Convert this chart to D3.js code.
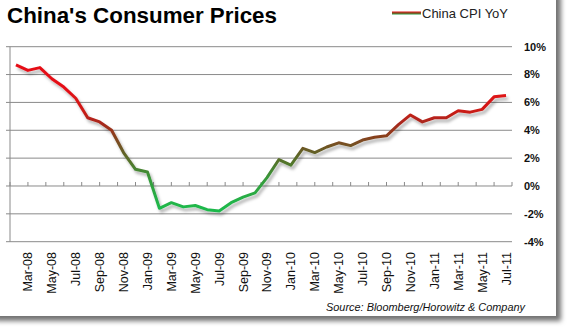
<!DOCTYPE html>
<html>
<head>
<meta charset="utf-8">
<script src="https://cdn.jsdelivr.net/npm/d3@7"></script>
<style>
  body { margin: 0; background: #fff; }
  svg { display: block; }
</style>
</head>
<body>
<div id="chart"></div>
<script>
// monthly categories, Feb-08 .. Jul-11
var months = ["Feb-08","Mar-08","Apr-08","May-08","Jun-08","Jul-08","Aug-08","Sep-08","Oct-08","Nov-08","Dec-08",
  "Jan-09","Feb-09","Mar-09","Apr-09","May-09","Jun-09","Jul-09","Aug-09","Sep-09","Oct-09","Nov-09","Dec-09",
  "Jan-10","Feb-10","Mar-10","Apr-10","May-10","Jun-10","Jul-10","Aug-10","Sep-10","Oct-10","Nov-10","Dec-10",
  "Jan-11","Feb-11","Mar-11","Apr-11","May-11","Jun-11","Jul-11"];
var cpi = [8.7, 8.3, 8.5, 7.7, 7.1, 6.3, 4.9, 4.6, 4.0, 2.4, 1.2,
  1.0, -1.6, -1.2, -1.5, -1.4, -1.7, -1.8, -1.2, -0.8, -0.5, 0.6, 1.9,
  1.5, 2.7, 2.4, 2.8, 3.1, 2.9, 3.3, 3.5, 3.6, 4.4, 5.1, 4.6,
  4.9, 4.9, 5.4, 5.3, 5.5, 6.4, 6.5];
var xLabels = months.filter(function (m, i) { return i % 2 == 1; });
var yTicks = [-4, -2, 0, 2, 4, 6, 8, 10];

var width = 570, height = 331;

var svg = d3.select("#chart").append("svg")
  .attr("width", width)
  .attr("height", height);

var defs = svg.append("defs");

// frame shadow
var fs = defs.append("filter").attr("id", "frameShadow")
  .attr("x", "-5%").attr("y", "-5%").attr("width", "115%").attr("height", "115%");
fs.append("feDropShadow").attr("dx", 5).attr("dy", 5).attr("stdDeviation", 2.5)
  .attr("flood-color", "#000").attr("flood-opacity", 0.55);

// line shadow
var ls = defs.append("filter").attr("id", "lineShadow")
  .attr("x", "-10%").attr("y", "-10%").attr("width", "120%").attr("height", "120%");
ls.append("feDropShadow").attr("dx", 2).attr("dy", 3).attr("stdDeviation", 1.5)
  .attr("flood-color", "#000").attr("flood-opacity", 0.3);

svg.append("rect")
  .attr("x", -10).attr("y", -10)
  .attr("width", 566).attr("height", 326)
  .attr("fill", "#fff")
  .attr("filter", "url(#frameShadow)");

// scales
var x = d3.scaleBand().domain(months).range([10, 512]).padding(0);
var xi = d3.scaleLinear().domain([-0.5, months.length - 0.5]).range([10, 512]);
var y = d3.scaleLinear().domain([-4, 10]).range([241.7, 46.7]);

// colour gradient along the value axis
var grad = defs.append("linearGradient").attr("id", "cpiGrad")
  .attr("gradientUnits", "userSpaceOnUse")
  .attr("x1", 0).attr("x2", 0)
  .attr("y1", y(7)).attr("y2", y(-1.5));
var stops = [
  [7, "#e50e14"], [5.5, "#cf1a17"], [4.5, "#a8281c"], [3.5, "#86421f"],
  [2.5, "#655e26"], [1.5, "#4f7a2d"], [0.5, "#369a3b"], [-1.5, "#1fb84b"]
];
stops.forEach(function (s) {
  grad.append("stop")
    .attr("offset", (7 - s[0]) / 8.5)
    .attr("stop-color", s[1]);
});

var lg = defs.append("linearGradient").attr("id", "legGrad")
  .attr("x1", 0).attr("x2", 0).attr("y1", 0).attr("y2", 1);
lg.append("stop").attr("offset", 0).attr("stop-color", "#e01818");
lg.append("stop").attr("offset", 0.5).attr("stop-color", "#8a4a22");
lg.append("stop").attr("offset", 1).attr("stop-color", "#2a9a40");

// gridlines
svg.append("g").selectAll("line")
  .data(yTicks.filter(function (d) { return d != 0; }))
  .enter().append("line")
  .attr("x1", 6).attr("x2", 512)
  .attr("y1", function (d) { return y(d); })
  .attr("y2", function (d) { return y(d); })
  .attr("stroke", "#8a8a8a")
  .attr("stroke-width", 1);

// left vertical line
svg.append("line")
  .attr("x1", 10).attr("x2", 10)
  .attr("y1", y(10)).attr("y2", y(-4))
  .attr("stroke", "#8a8a8a");

// category axis at 0%
svg.append("line")
  .attr("x1", 6).attr("x2", 512)
  .attr("y1", y(0)).attr("y2", y(0))
  .attr("stroke", "#8a8a8a");
svg.append("g").selectAll("line")
  .data(d3.range(0, 29).map(function (i) { return -0.5 + 1.5 * i; }))
  .enter().append("line")
  .attr("x1", function (d) { return xi(d); })
  .attr("x2", function (d) { return xi(d); })
  .attr("y1", y(0) - 4).attr("y2", y(0))
  .attr("stroke", "#8a8a8a");

// y labels on the right
svg.append("g").selectAll("text")
  .data(yTicks)
  .enter().append("text")
  .attr("x", 524)
  .attr("y", function (d) { return y(d); })
  .attr("dy", "0.35em")
  .style("font-family", "Liberation Sans, Arial, sans-serif")
  .style("font-size", "11px")
  .style("font-weight", "bold")
  .attr("fill", "#111")
  .text(function (d) { return d + "%"; });

// x labels rotated
svg.append("g").selectAll("text")
  .data(xLabels)
  .enter().append("text")
  .attr("transform", function (d) {
    return "translate(" + (x(d) + x.bandwidth() / 2) + ",252) rotate(-90)";
  })
  .attr("text-anchor", "end")
  .attr("dy", "0.36em")
  .style("font-family", "Liberation Sans, Arial, sans-serif")
  .style("font-size", "12.5px")
  .attr("fill", "#111")
  .text(function (d) { return d; });

// the line
var line = d3.line()
  .x(function (d, i) { return x(months[i]) + x.bandwidth() / 2; })
  .y(function (d) { return y(d); });

svg.append("path")
  .datum(cpi)
  .attr("d", line)
  .attr("fill", "none")
  .attr("stroke", "url(#cpiGrad)")
  .attr("stroke-width", 3)
  .attr("stroke-linejoin", "round")
  .attr("filter", "url(#lineShadow)");

// title
var title = svg.append("text")
  .attr("x", 7).attr("y", 23)
  .style("font-family", "Liberation Sans, Arial, sans-serif")
  .style("font-size", "22.5px")
  .style("font-weight", "bold")
  .attr("fill", "#000")
  .text("China's Consumer Prices");
title.attr("textLength", 270).attr("lengthAdjust", "spacingAndGlyphs");

// legend
svg.append("rect")
  .attr("x", 392).attr("y", 11.5)
  .attr("width", 29).attr("height", 3)
  .attr("fill", "url(#legGrad)");
svg.append("text")
  .attr("x", 422).attr("y", 17.5)
  .style("font-family", "Liberation Sans, Arial, sans-serif")
  .style("font-size", "13px")
  .attr("fill", "#222")
  .text("China CPI YoY");

// source
var src = svg.append("text")
  .attr("x", 326).attr("y", 311)
  .style("font-family", "Liberation Sans, Arial, sans-serif")
  .style("font-size", "11px")
  .style("font-style", "italic")
  .attr("fill", "#111")
  .text("Source:  Bloomberg/Horowitz & Company");
src.attr("textLength", 199).attr("lengthAdjust", "spacingAndGlyphs");
</script>
</body>
</html>
